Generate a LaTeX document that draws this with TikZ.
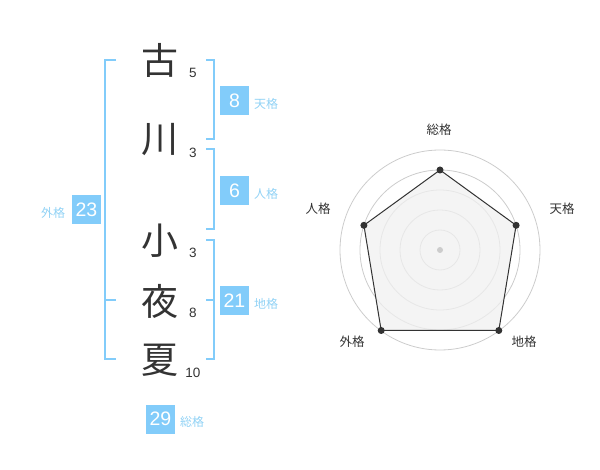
\documentclass[tikz,border=0pt]{standalone}
\usepackage{fontspec}
\setmainfont{Liberation Sans}
\newfontfamily\jp{Noto Sans CJK JP}
\definecolor{kblue}{RGB}{130,204,250}
\definecolor{klabel}{RGB}{145,210,245}
\definecolor{kdark}{RGB}{51,51,51}
\definecolor{kgrid}{RGB}{204,204,204}
\definecolor{kfill}{RGB}{240,240,240}
\begin{document}
\begin{tikzpicture}[x=1pt,y=-1pt,
  kanji/.style={inner sep=0pt,text=kdark,font=\jp\fontsize{37}{37}\selectfont},
  stroke/.style={inner sep=0pt,text=kdark,font=\fontsize{13.5}{14}\selectfont},
  numbox/.style={fill=kblue,text=white,minimum width=29pt,minimum height=29pt,inner sep=0pt,font=\fontsize{19.5}{19.5}\selectfont},
  blabel/.style={inner sep=0pt,text=klabel,font=\jp\fontsize{12}{12}\selectfont},
  rlabel/.style={inner sep=0pt,text=kdark,font=\jp\fontsize{12.5}{13}\selectfont},
  brk/.style={draw=kblue,line width=1.8pt},
  ring/.style={draw=kgrid,line width=0.8pt},
  dot/.style={circle,fill=kdark,inner sep=0pt,minimum size=7pt}]
\useasboundingbox (0,0) rectangle (600,470);
% characters
\node[kanji] (c1) at (160,60) {古};
\node[kanji] (c2) at (160,140) {川};
\node[kanji] (c3) at (160,241) {小};
\node[kanji] (c4) at (160,301) {夜};
\node[kanji] (c5) at (160,360) {夏};
\node[stroke] (s1) at (193,73) {5};
\node[stroke] (s2) at (193,153) {3};
\node[stroke] (s3) at (193,253) {3};
\node[stroke] (s4) at (193,313) {8};
\node[stroke] (s5) at (193,373) {10};
% brackets
\draw[brk] (116,60) -- (105,60) -- (105,359) -- (116,359);
\draw[brk] (105,300) -- (116,300);
\draw[brk] (206,60) -- (214,60) -- (214,139) -- (206,139);
\draw[brk] (206,149) -- (214,149) -- (214,229) -- (206,229);
\draw[brk] (206,240) -- (214,240) -- (214,359) -- (206,359);
\draw[brk] (206,300) -- (214,300);
% boxes
\node[numbox] (ten) at (234.5,100.5) {8};
\node[blabel] (tenl) at (266,104) {天格};
\node[numbox] (jin) at (234.5,190.5) {6};
\node[blabel] (jinl) at (266,194) {人格};
\node[numbox] (chi) at (234.5,300.5) {21};
\node[blabel] (chil) at (266,304) {地格};
\node[numbox] (gai) at (86.5,210) {23};
\node[blabel] (gail) at (53,213) {外格};
\node[numbox] (sou) at (160.5,419) {29};
\node[blabel] (soul) at (192,422) {総格};
% radar
\coordinate (ctr) at (440,250);
\foreach \r in {20,40,60,80,100} \draw[ring] (ctr) circle[radius=\r];
\coordinate (p1) at (440,170);
\coordinate (p2) at (516.1,225.3);
\coordinate (p3) at (498.8,330.5);
\coordinate (p4) at (381.2,330.5);
\coordinate (p5) at (363.9,225.3);
\fill[kfill,opacity=0.75] (p1) -- (p2) -- (p3) -- (p4) -- (p5) -- cycle;
\draw[kdark,line width=1pt] (p1) -- (p2) -- (p3) -- (p4) -- (p5) -- cycle;
\foreach \p in {p1,p2,p3,p4,p5} \node[dot] at (\p) {};
\node[circle,fill=kgrid,inner sep=0pt,minimum size=6pt] (cd) at (ctr) {};
\node[rlabel] (r1) at (439,130) {総格};
\node[rlabel] (r2) at (562,209) {天格};
\node[rlabel] (r3) at (318,209) {人格};
\node[rlabel] (r4) at (352,342) {外格};
\node[rlabel] (r5) at (524,342) {地格};
\end{tikzpicture}
\end{document}
